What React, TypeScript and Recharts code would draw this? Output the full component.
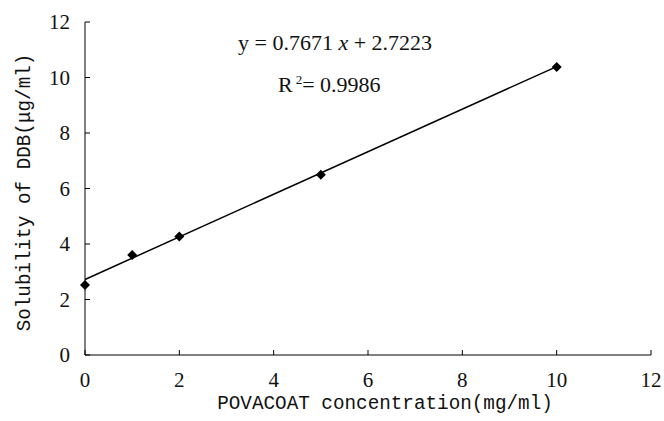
import { ComposedChart, Scatter, XAxis, YAxis } from 'recharts'

// measured solubility points
const concentration = [0, 1, 2, 5, 10]
const solubility = [2.52, 3.6, 4.27, 6.5, 10.38]

// linear fit  y = 0.7671x + 2.7223
const slope = 0.7671
const intercept = 2.7223
const fitX = [0, 10]

const xTicks = [0, 2, 4, 6, 8, 10, 12]
const yTicks = [0, 2, 4, 6, 8, 10, 12]

const points = concentration.map((x, i) => ({ x, y: solubility[i] }))
const fitLine = fitX.map((x) => ({ x, y: slope * x + intercept }))

const SERIF = 'Liberation Serif'
const MONO = 'Liberation Mono'

function Diamond({ cx, cy }: { cx?: number; cy?: number }) {
  if (cx == null || cy == null) return null
  const r = 5
  return <polygon points={`${cx},${cy - r} ${cx + r},${cy} ${cx},${cy + r} ${cx - r},${cy}`} fill="#000" />
}

const renderXTick = (props: any) => {
  const { x, y, payload } = props
  return (
    <g key={`xt-${payload.value}`}>
      <line x1={x} x2={x} y1={y - 9} y2={y - 14} stroke="#000" strokeWidth={1} />
      <text x={x} y={y + 23} textAnchor="middle" fill="#111" fontSize={21} fontFamily={SERIF}>
        {payload.value}
      </text>
    </g>
  )
}

const renderYTick = (props: any) => {
  const { x, y, payload } = props
  return (
    <g key={`yt-${payload.value}`}>
      <line x1={x + 9} x2={x + 14} y1={y} y2={y} stroke="#000" strokeWidth={1} />
      <text x={x - 6} y={y + 7} textAnchor="end" fill="#111" fontSize={21} fontFamily={SERIF}>
        {payload.value}
      </text>
    </g>
  )
}

export default function App() {
  return (
    <div style={{ position: 'fixed', left: 0, top: 0, width: 664, height: 421, background: '#fff' }}>
      <ComposedChart width={664} height={421} margin={{ top: 22, right: 13, left: 0, bottom: 0 }}>
        <XAxis
          type="number"
          dataKey="x"
          domain={[0, 12]}
          ticks={xTicks}
          tickSize={0}
          tickMargin={9}
          height={66}
          stroke="#000"
          tickLine={false}
          tick={renderXTick}
          interval={0}
          label={{
            value: 'POVACOAT concentration(mg/ml)',
            position: 'insideBottom',
            offset: 12,
            dx: 17,
            fill: '#111',
            fontSize: 19.3,
            fontFamily: MONO,
          }}
        />
        <YAxis
          type="number"
          dataKey="y"
          domain={[0, 12]}
          ticks={yTicks}
          tickSize={0}
          tickMargin={9}
          width={85}
          stroke="#000"
          tickLine={false}
          tick={renderYTick}
          interval={0}
          label={{
            value: 'Solubility of DDB(μg/ml)',
            angle: -90,
            position: 'insideLeft',
            offset: 23,
            dy: 4,
            fill: '#111',
            fontSize: 19.3,
            fontFamily: MONO,
            textAnchor: 'middle',
          }}
        />
        <Scatter
          data={fitLine}
          line={{ stroke: '#000', strokeWidth: 1.5 }}
          shape={() => <g />}
          isAnimationActive={false}
        />
        <Scatter data={points} shape={<Diamond />} isAnimationActive={false} />
      </ComposedChart>
      <div
        style={{
          position: 'absolute',
          left: 238,
          top: 30,
          fontFamily: SERIF,
          fontSize: 22,
          lineHeight: '25px',
          color: '#111',
          whiteSpace: 'nowrap',
        }}
      >
        y = 0.7671 <i>x</i> + 2.7223
      </div>
      <div
        style={{
          position: 'absolute',
          left: 278,
          top: 67,
          fontFamily: SERIF,
          fontSize: 22,
          lineHeight: '25px',
          color: '#111',
          whiteSpace: 'nowrap',
        }}
      >
        R<sup style={{ fontSize: 13, marginLeft: 3 }}>2</sup>= 0.9986
      </div>
    </div>
  )
}
